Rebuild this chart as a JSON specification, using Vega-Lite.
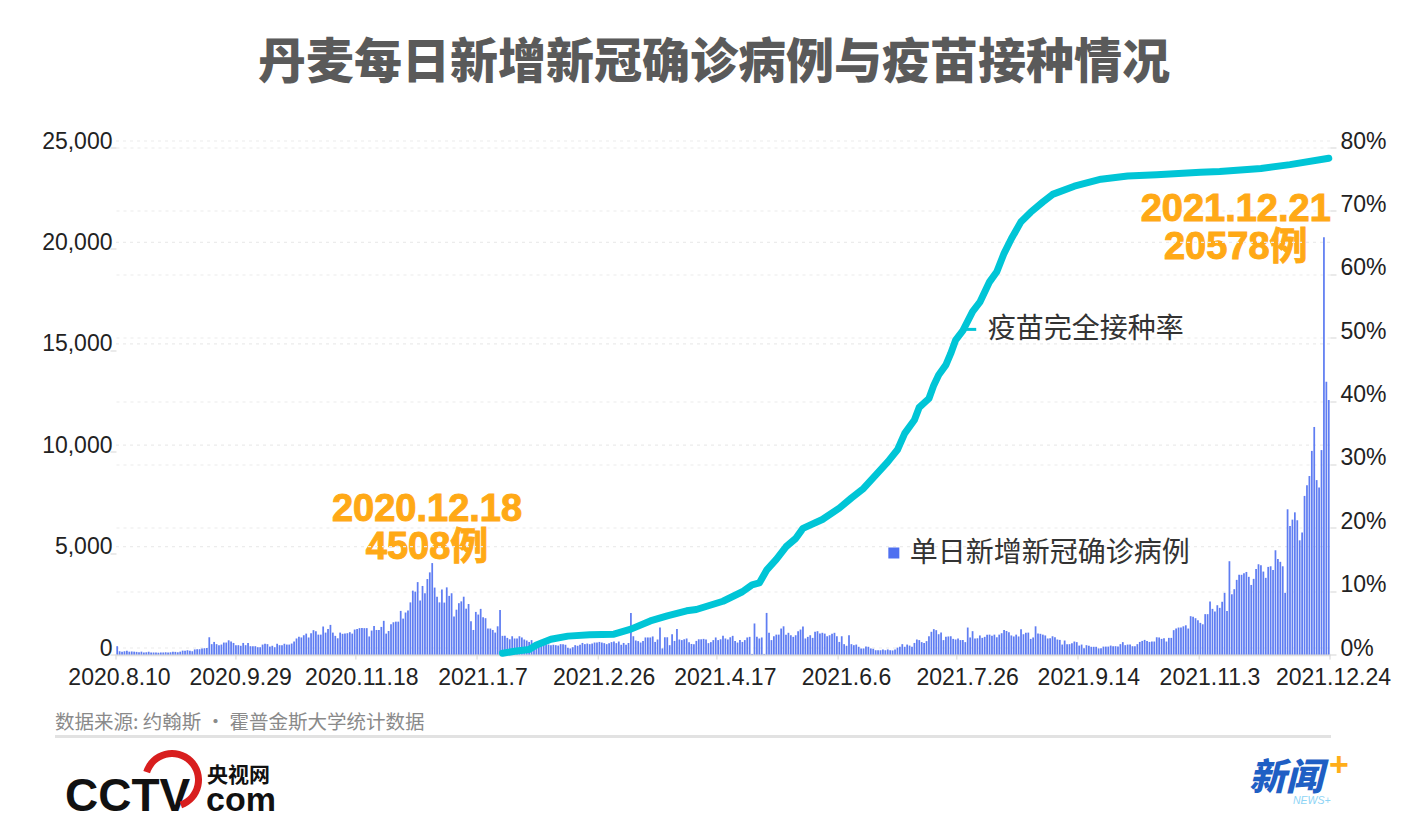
{
  "$schema": "https://vega.github.io/schema/vega-lite/v6.json",
  "width": 1214,
  "height": 507,
  "autosize": "none",
  "padding": {"left": 116, "top": 147.5, "right": 98, "bottom": 181.5},
  "background": "white",
  "title": {
    "text": "丹麦每日新增新冠确诊病例与疫苗接种情况",
    "font": "Noto Sans CJK SC",
    "fontSize": 48,
    "fontWeight": 900,
    "color": "#5a5a5a",
    "anchor": "middle",
    "frame": "group",
    "dx": -9,
    "offset": 42
  },
  "datasets": {
    "daily": [
      {"date":"2020-08-10","cases":410},{"date":"2020-08-11","cases":160},{"date":"2020-08-12","cases":130},{"date":"2020-08-13","cases":160},{"date":"2020-08-14","cases":180},{"date":"2020-08-15","cases":140},{"date":"2020-08-16","cases":150},{"date":"2020-08-17","cases":140},{"date":"2020-08-18","cases":130},{"date":"2020-08-19","cases":110},{"date":"2020-08-20","cases":140},{"date":"2020-08-21","cases":100},{"date":"2020-08-22","cases":110},{"date":"2020-08-23","cases":130},{"date":"2020-08-24","cases":100},{"date":"2020-08-25","cases":100},{"date":"2020-08-26","cases":100},{"date":"2020-08-27","cases":90},{"date":"2020-08-28","cases":100},{"date":"2020-08-29","cases":100},{"date":"2020-08-30","cases":110},{"date":"2020-08-31","cases":100},
      {"date":"2020-09-01","cases":110},{"date":"2020-09-02","cases":130},{"date":"2020-09-03","cases":130},{"date":"2020-09-04","cases":110},{"date":"2020-09-05","cases":140},{"date":"2020-09-06","cases":190},{"date":"2020-09-07","cases":190},{"date":"2020-09-08","cases":210},{"date":"2020-09-09","cases":190},{"date":"2020-09-10","cases":160},{"date":"2020-09-11","cases":250},{"date":"2020-09-12","cases":260},{"date":"2020-09-13","cases":260},{"date":"2020-09-14","cases":290},{"date":"2020-09-15","cases":310},{"date":"2020-09-16","cases":320},{"date":"2020-09-17","cases":850},{"date":"2020-09-18","cases":510},{"date":"2020-09-19","cases":620},{"date":"2020-09-20","cases":510},{"date":"2020-09-21","cases":460},{"date":"2020-09-22","cases":490},{"date":"2020-09-23","cases":590},{"date":"2020-09-24","cases":590},{"date":"2020-09-25","cases":700},{"date":"2020-09-26","cases":640},{"date":"2020-09-27","cases":570},{"date":"2020-09-28","cases":460},{"date":"2020-09-29","cases":460},{"date":"2020-09-30","cases":430},
      {"date":"2020-10-01","cases":570},{"date":"2020-10-02","cases":460},{"date":"2020-10-03","cases":570},{"date":"2020-10-04","cases":410},{"date":"2020-10-05","cases":410},{"date":"2020-10-06","cases":410},{"date":"2020-10-07","cases":360},{"date":"2020-10-08","cases":360},{"date":"2020-10-09","cases":490},{"date":"2020-10-10","cases":530},{"date":"2020-10-11","cases":510},{"date":"2020-10-12","cases":390},{"date":"2020-10-13","cases":430},{"date":"2020-10-14","cases":360},{"date":"2020-10-15","cases":530},{"date":"2020-10-16","cases":460},{"date":"2020-10-17","cases":460},{"date":"2020-10-18","cases":530},{"date":"2020-10-19","cases":490},{"date":"2020-10-20","cases":490},{"date":"2020-10-21","cases":540},{"date":"2020-10-22","cases":640},{"date":"2020-10-23","cases":790},{"date":"2020-10-24","cases":870},{"date":"2020-10-25","cases":840},{"date":"2020-10-26","cases":950},{"date":"2020-10-27","cases":1030},{"date":"2020-10-28","cases":840},{"date":"2020-10-29","cases":1050},{"date":"2020-10-30","cases":1200},{"date":"2020-10-31","cases":1150},
      {"date":"2020-11-01","cases":980},{"date":"2020-11-02","cases":980},{"date":"2020-11-03","cases":1380},{"date":"2020-11-04","cases":1080},{"date":"2020-11-05","cases":1260},{"date":"2020-11-06","cases":1460},{"date":"2020-11-07","cases":1080},{"date":"2020-11-08","cases":920},{"date":"2020-11-09","cases":800},{"date":"2020-11-10","cases":1080},{"date":"2020-11-11","cases":1020},{"date":"2020-11-12","cases":1030},{"date":"2020-11-13","cases":1050},{"date":"2020-11-14","cases":1100},{"date":"2020-11-15","cases":1030},{"date":"2020-11-16","cases":1230},{"date":"2020-11-17","cases":1260},{"date":"2020-11-18","cases":1300},{"date":"2020-11-19","cases":1310},{"date":"2020-11-20","cases":1300},{"date":"2020-11-21","cases":1300},{"date":"2020-11-22","cases":890},{"date":"2020-11-23","cases":1180},{"date":"2020-11-24","cases":1410},{"date":"2020-11-25","cases":1210},{"date":"2020-11-26","cases":1210},{"date":"2020-11-27","cases":1360},{"date":"2020-11-28","cases":1660},{"date":"2020-11-29","cases":1030},{"date":"2020-11-30","cases":1160},
      {"date":"2020-12-01","cases":1490},{"date":"2020-12-02","cases":1590},{"date":"2020-12-03","cases":1620},{"date":"2020-12-04","cases":1620},{"date":"2020-12-05","cases":2150},{"date":"2020-12-06","cases":1770},{"date":"2020-12-07","cases":2070},{"date":"2020-12-08","cases":2170},{"date":"2020-12-09","cases":2570},{"date":"2020-12-10","cases":3150},{"date":"2020-12-11","cases":3100},{"date":"2020-12-12","cases":3570},{"date":"2020-12-13","cases":2660},{"date":"2020-12-14","cases":3380},{"date":"2020-12-15","cases":3020},{"date":"2020-12-16","cases":3720},{"date":"2020-12-17","cases":4050},{"date":"2020-12-18","cases":4508},{"date":"2020-12-19","cases":3300},{"date":"2020-12-20","cases":2850},{"date":"2020-12-21","cases":2570},{"date":"2020-12-22","cases":3210},{"date":"2020-12-23","cases":2560},{"date":"2020-12-24","cases":3310},{"date":"2020-12-25","cases":2890},{"date":"2020-12-26","cases":3020},{"date":"2020-12-27","cases":1870},{"date":"2020-12-28","cases":2210},{"date":"2020-12-29","cases":2530},{"date":"2020-12-30","cases":2620},{"date":"2020-12-31","cases":2850},
      {"date":"2021-01-01","cases":2260},{"date":"2021-01-02","cases":2490},{"date":"2021-01-03","cases":1640},{"date":"2021-01-04","cases":1210},{"date":"2021-01-05","cases":2100},{"date":"2021-01-06","cases":1970},{"date":"2021-01-07","cases":2250},{"date":"2021-01-08","cases":1840},{"date":"2021-01-09","cases":1790},{"date":"2021-01-10","cases":1280},{"date":"2021-01-11","cases":1280},{"date":"2021-01-12","cases":1210},{"date":"2021-01-13","cases":1080},{"date":"2021-01-14","cases":1390},{"date":"2021-01-15","cases":2200},{"date":"2021-01-16","cases":920},{"date":"2021-01-17","cases":920},{"date":"2021-01-18","cases":820},{"date":"2021-01-19","cases":750},{"date":"2021-01-20","cases":900},{"date":"2021-01-21","cases":790},{"date":"2021-01-22","cases":790},{"date":"2021-01-23","cases":900},{"date":"2021-01-24","cases":840},{"date":"2021-01-25","cases":740},{"date":"2021-01-26","cases":690},{"date":"2021-01-27","cases":620},{"date":"2021-01-28","cases":710},{"date":"2021-01-29","cases":510},{"date":"2021-01-30","cases":510},{"date":"2021-01-31","cases":510},
      {"date":"2021-02-01","cases":480},{"date":"2021-02-02","cases":510},{"date":"2021-02-03","cases":510},{"date":"2021-02-04","cases":490},{"date":"2021-02-05","cases":460},{"date":"2021-02-06","cases":480},{"date":"2021-02-07","cases":460},{"date":"2021-02-08","cases":440},{"date":"2021-02-09","cases":510},{"date":"2021-02-10","cases":510},{"date":"2021-02-11","cases":480},{"date":"2021-02-12","cases":330},{"date":"2021-02-13","cases":300},{"date":"2021-02-14","cases":360},{"date":"2021-02-15","cases":460},{"date":"2021-02-16","cases":430},{"date":"2021-02-17","cases":480},{"date":"2021-02-18","cases":570},{"date":"2021-02-19","cases":510},{"date":"2021-02-20","cases":540},{"date":"2021-02-21","cases":510},{"date":"2021-02-22","cases":540},{"date":"2021-02-23","cases":590},{"date":"2021-02-24","cases":590},{"date":"2021-02-25","cases":620},{"date":"2021-02-26","cases":590},{"date":"2021-02-27","cases":560},{"date":"2021-02-28","cases":510},
      {"date":"2021-03-01","cases":560},{"date":"2021-03-02","cases":610},{"date":"2021-03-03","cases":640},{"date":"2021-03-04","cases":560},{"date":"2021-03-05","cases":640},{"date":"2021-03-06","cases":480},{"date":"2021-03-07","cases":570},{"date":"2021-03-08","cases":480},{"date":"2021-03-09","cases":570},{"date":"2021-03-10","cases":2050},{"date":"2021-03-11","cases":900},{"date":"2021-03-12","cases":690},{"date":"2021-03-13","cases":660},{"date":"2021-03-14","cases":590},{"date":"2021-03-15","cases":670},{"date":"2021-03-16","cases":840},{"date":"2021-03-17","cases":840},{"date":"2021-03-18","cases":840},{"date":"2021-03-19","cases":890},{"date":"2021-03-20","cases":620},{"date":"2021-03-21","cases":740},{"date":"2021-03-22","cases":1330},{"date":"2021-03-23","cases":300},{"date":"2021-03-24","cases":850},{"date":"2021-03-25","cases":850},{"date":"2021-03-26","cases":460},{"date":"2021-03-27","cases":1000},{"date":"2021-03-28","cases":670},{"date":"2021-03-29","cases":1260},{"date":"2021-03-30","cases":740},{"date":"2021-03-31","cases":710},
      {"date":"2021-04-01","cases":750},{"date":"2021-04-02","cases":790},{"date":"2021-04-03","cases":610},{"date":"2021-04-04","cases":520},{"date":"2021-04-05","cases":510},{"date":"2021-04-06","cases":670},{"date":"2021-04-07","cases":750},{"date":"2021-04-08","cases":750},{"date":"2021-04-09","cases":770},{"date":"2021-04-10","cases":740},{"date":"2021-04-11","cases":560},{"date":"2021-04-12","cases":610},{"date":"2021-04-13","cases":710},{"date":"2021-04-14","cases":840},{"date":"2021-04-15","cases":710},{"date":"2021-04-16","cases":750},{"date":"2021-04-17","cases":930},{"date":"2021-04-18","cases":790},{"date":"2021-04-19","cases":740},{"date":"2021-04-20","cases":850},{"date":"2021-04-21","cases":920},{"date":"2021-04-22","cases":670},{"date":"2021-04-23","cases":590},{"date":"2021-04-24","cases":710},{"date":"2021-04-25","cases":620},{"date":"2021-04-26","cases":710},{"date":"2021-04-27","cases":840},{"date":"2021-04-28","cases":870},{"date":"2021-04-29","cases":20},{"date":"2021-04-30","cases":1530},
      {"date":"2021-05-01","cases":870},{"date":"2021-05-02","cases":790},{"date":"2021-05-03","cases":840},{"date":"2021-05-04","cases":20},{"date":"2021-05-05","cases":2050},{"date":"2021-05-06","cases":1070},{"date":"2021-05-07","cases":710},{"date":"2021-05-08","cases":900},{"date":"2021-05-09","cases":980},{"date":"2021-05-10","cases":980},{"date":"2021-05-11","cases":1280},{"date":"2021-05-12","cases":1390},{"date":"2021-05-13","cases":980},{"date":"2021-05-14","cases":1070},{"date":"2021-05-15","cases":950},{"date":"2021-05-16","cases":870},{"date":"2021-05-17","cases":950},{"date":"2021-05-18","cases":1150},{"date":"2021-05-19","cases":1230},{"date":"2021-05-20","cases":1380},{"date":"2021-05-21","cases":790},{"date":"2021-05-22","cases":870},{"date":"2021-05-23","cases":950},{"date":"2021-05-24","cases":820},{"date":"2021-05-25","cases":1120},{"date":"2021-05-26","cases":1150},{"date":"2021-05-27","cases":1030},{"date":"2021-05-28","cases":1070},{"date":"2021-05-29","cases":1030},{"date":"2021-05-30","cases":900},{"date":"2021-05-31","cases":950},
      {"date":"2021-06-01","cases":1020},{"date":"2021-06-02","cases":1070},{"date":"2021-06-03","cases":900},{"date":"2021-06-04","cases":620},{"date":"2021-06-05","cases":900},{"date":"2021-06-06","cases":510},{"date":"2021-06-07","cases":430},{"date":"2021-06-08","cases":950},{"date":"2021-06-09","cases":510},{"date":"2021-06-10","cases":460},{"date":"2021-06-11","cases":490},{"date":"2021-06-12","cases":380},{"date":"2021-06-13","cases":300},{"date":"2021-06-14","cases":300},{"date":"2021-06-15","cases":390},{"date":"2021-06-16","cases":380},{"date":"2021-06-17","cases":300},{"date":"2021-06-18","cases":280},{"date":"2021-06-19","cases":210},{"date":"2021-06-20","cases":210},{"date":"2021-06-21","cases":210},{"date":"2021-06-22","cases":250},{"date":"2021-06-23","cases":210},{"date":"2021-06-24","cases":250},{"date":"2021-06-25","cases":210},{"date":"2021-06-26","cases":200},{"date":"2021-06-27","cases":250},{"date":"2021-06-28","cases":340},{"date":"2021-06-29","cases":380},{"date":"2021-06-30","cases":510},
      {"date":"2021-07-01","cases":380},{"date":"2021-07-02","cases":490},{"date":"2021-07-03","cases":440},{"date":"2021-07-04","cases":380},{"date":"2021-07-05","cases":570},{"date":"2021-07-06","cases":740},{"date":"2021-07-07","cases":710},{"date":"2021-07-08","cases":610},{"date":"2021-07-09","cases":570},{"date":"2021-07-10","cases":660},{"date":"2021-07-11","cases":900},{"date":"2021-07-12","cases":1120},{"date":"2021-07-13","cases":1250},{"date":"2021-07-14","cases":1200},{"date":"2021-07-15","cases":1000},{"date":"2021-07-16","cases":1080},{"date":"2021-07-17","cases":710},{"date":"2021-07-18","cases":870},{"date":"2021-07-19","cases":890},{"date":"2021-07-20","cases":900},{"date":"2021-07-21","cases":770},{"date":"2021-07-22","cases":740},{"date":"2021-07-23","cases":790},{"date":"2021-07-24","cases":710},{"date":"2021-07-25","cases":710},{"date":"2021-07-26","cases":610},{"date":"2021-07-27","cases":1330},{"date":"2021-07-28","cases":840},{"date":"2021-07-29","cases":1150},{"date":"2021-07-30","cases":790},{"date":"2021-07-31","cases":800},
      {"date":"2021-08-01","cases":940},{"date":"2021-08-02","cases":820},{"date":"2021-08-03","cases":870},{"date":"2021-08-04","cases":980},{"date":"2021-08-05","cases":980},{"date":"2021-08-06","cases":930},{"date":"2021-08-07","cases":980},{"date":"2021-08-08","cases":850},{"date":"2021-08-09","cases":980},{"date":"2021-08-10","cases":1050},{"date":"2021-08-11","cases":1210},{"date":"2021-08-12","cases":1160},{"date":"2021-08-13","cases":1100},{"date":"2021-08-14","cases":940},{"date":"2021-08-15","cases":890},{"date":"2021-08-16","cases":980},{"date":"2021-08-17","cases":890},{"date":"2021-08-18","cases":1250},{"date":"2021-08-19","cases":1000},{"date":"2021-08-20","cases":1070},{"date":"2021-08-21","cases":1080},{"date":"2021-08-22","cases":770},{"date":"2021-08-23","cases":840},{"date":"2021-08-24","cases":1390},{"date":"2021-08-25","cases":1030},{"date":"2021-08-26","cases":1020},{"date":"2021-08-27","cases":980},{"date":"2021-08-28","cases":940},{"date":"2021-08-29","cases":790},{"date":"2021-08-30","cases":800},{"date":"2021-08-31","cases":900},
      {"date":"2021-09-01","cases":850},{"date":"2021-09-02","cases":740},{"date":"2021-09-03","cases":720},{"date":"2021-09-04","cases":490},{"date":"2021-09-05","cases":690},{"date":"2021-09-06","cases":510},{"date":"2021-09-07","cases":510},{"date":"2021-09-08","cases":560},{"date":"2021-09-09","cases":640},{"date":"2021-09-10","cases":610},{"date":"2021-09-11","cases":440},{"date":"2021-09-12","cases":490},{"date":"2021-09-13","cases":310},{"date":"2021-09-14","cases":460},{"date":"2021-09-15","cases":430},{"date":"2021-09-16","cases":380},{"date":"2021-09-17","cases":380},{"date":"2021-09-18","cases":380},{"date":"2021-09-19","cases":300},{"date":"2021-09-20","cases":310},{"date":"2021-09-21","cases":390},{"date":"2021-09-22","cases":390},{"date":"2021-09-23","cases":390},{"date":"2021-09-24","cases":440},{"date":"2021-09-25","cases":410},{"date":"2021-09-26","cases":410},{"date":"2021-09-27","cases":390},{"date":"2021-09-28","cases":510},{"date":"2021-09-29","cases":610},{"date":"2021-09-30","cases":460},
      {"date":"2021-10-01","cases":490},{"date":"2021-10-02","cases":490},{"date":"2021-10-03","cases":410},{"date":"2021-10-04","cases":410},{"date":"2021-10-05","cases":510},{"date":"2021-10-06","cases":620},{"date":"2021-10-07","cases":670},{"date":"2021-10-08","cases":720},{"date":"2021-10-09","cases":670},{"date":"2021-10-10","cases":620},{"date":"2021-10-11","cases":640},{"date":"2021-10-12","cases":640},{"date":"2021-10-13","cases":850},{"date":"2021-10-14","cases":840},{"date":"2021-10-15","cases":770},{"date":"2021-10-16","cases":800},{"date":"2021-10-17","cases":640},{"date":"2021-10-18","cases":820},{"date":"2021-10-19","cases":820},{"date":"2021-10-20","cases":1200},{"date":"2021-10-21","cases":1280},{"date":"2021-10-22","cases":1330},{"date":"2021-10-23","cases":1330},{"date":"2021-10-24","cases":1390},{"date":"2021-10-25","cases":1440},{"date":"2021-10-26","cases":1280},{"date":"2021-10-27","cases":1890},{"date":"2021-10-28","cases":1860},{"date":"2021-10-29","cases":1790},{"date":"2021-10-30","cases":1690},{"date":"2021-10-31","cases":1560},
      {"date":"2021-11-01","cases":1490},{"date":"2021-11-02","cases":1990},{"date":"2021-11-03","cases":1990},{"date":"2021-11-04","cases":2610},{"date":"2021-11-05","cases":2250},{"date":"2021-11-06","cases":2120},{"date":"2021-11-07","cases":2430},{"date":"2021-11-08","cases":2300},{"date":"2021-11-09","cases":2600},{"date":"2021-11-10","cases":3040},{"date":"2021-11-11","cases":2150},{"date":"2021-11-12","cases":4600},{"date":"2021-11-13","cases":2970},{"date":"2021-11-14","cases":3220},{"date":"2021-11-15","cases":3680},{"date":"2021-11-16","cases":3930},{"date":"2021-11-17","cases":3930},{"date":"2021-11-18","cases":4010},{"date":"2021-11-19","cases":4070},{"date":"2021-11-20","cases":3830},{"date":"2021-11-21","cases":3430},{"date":"2021-11-22","cases":3730},{"date":"2021-11-23","cases":4220},{"date":"2021-11-24","cases":4450},{"date":"2021-11-25","cases":4400},{"date":"2021-11-26","cases":4090},{"date":"2021-11-27","cases":3780},{"date":"2021-11-28","cases":4320},{"date":"2021-11-29","cases":4350},{"date":"2021-11-30","cases":4170},
      {"date":"2021-12-01","cases":5140},{"date":"2021-12-02","cases":4710},{"date":"2021-12-03","cases":4570},{"date":"2021-12-04","cases":4350},{"date":"2021-12-05","cases":3040},{"date":"2021-12-06","cases":7160},{"date":"2021-12-07","cases":6340},{"date":"2021-12-08","cases":6650},{"date":"2021-12-09","cases":7010},{"date":"2021-12-10","cases":6620},{"date":"2021-12-11","cases":5630},{"date":"2021-12-12","cases":6010},{"date":"2021-12-13","cases":7820},{"date":"2021-12-14","cases":8340},{"date":"2021-12-15","cases":8800},{"date":"2021-12-16","cases":10040},{"date":"2021-12-17","cases":11220},{"date":"2021-12-18","cases":8600},{"date":"2021-12-19","cases":8230},{"date":"2021-12-20","cases":10080},{"date":"2021-12-21","cases":20578},{"date":"2021-12-22","cases":13450},{"date":"2021-12-23","cases":12550}
    ],
    "vaccine": [
      {"date":"2021-01-16","rate":0.2},{"date":"2021-01-21","rate":0.5},{"date":"2021-01-27","rate":0.8},{"date":"2021-01-30","rate":1.5},{"date":"2021-02-05","rate":2.4},{"date":"2021-02-12","rate":2.9},{"date":"2021-02-21","rate":3.1},{"date":"2021-03-03","rate":3.2},{"date":"2021-03-10","rate":4.0},{"date":"2021-03-18","rate":5.3},{"date":"2021-03-25","rate":6.1},{"date":"2021-04-02","rate":6.9},{"date":"2021-04-06","rate":7.1},{"date":"2021-04-17","rate":8.4},{"date":"2021-04-25","rate":9.9},{"date":"2021-04-29","rate":11.0},{"date":"2021-05-02","rate":11.3},{"date":"2021-05-05","rate":13.3},{"date":"2021-05-09","rate":15.0},{"date":"2021-05-13","rate":17.0},{"date":"2021-05-17","rate":18.3},{"date":"2021-05-20","rate":19.9},{"date":"2021-05-28","rate":21.3},{"date":"2021-06-04","rate":23.1},{"date":"2021-06-09","rate":24.7},{"date":"2021-06-14","rate":26.2},{"date":"2021-06-19","rate":28.3},{"date":"2021-06-24","rate":30.4},{"date":"2021-06-28","rate":32.3},{"date":"2021-07-01","rate":34.9},{"date":"2021-07-05","rate":37.0},{"date":"2021-07-07","rate":39.0},{"date":"2021-07-11","rate":40.4},{"date":"2021-07-13","rate":42.5},{"date":"2021-07-15","rate":44.1},{"date":"2021-07-18","rate":45.7},{"date":"2021-07-20","rate":47.5},{"date":"2021-07-22","rate":49.6},{"date":"2021-07-25","rate":51.1},{"date":"2021-07-29","rate":54.1},{"date":"2021-08-01","rate":55.6},{"date":"2021-08-05","rate":58.8},{"date":"2021-08-08","rate":60.4},{"date":"2021-08-11","rate":63.3},{"date":"2021-08-14","rate":65.6},{"date":"2021-08-18","rate":68.3},{"date":"2021-08-22","rate":69.8},{"date":"2021-08-27","rate":71.4},{"date":"2021-08-31","rate":72.6},{"date":"2021-09-09","rate":73.9},{"date":"2021-09-20","rate":75.0},{"date":"2021-10-01","rate":75.5},{"date":"2021-10-13","rate":75.7},{"date":"2021-10-31","rate":76.1},{"date":"2021-11-08","rate":76.2},{"date":"2021-11-25","rate":76.7},{"date":"2021-12-07","rate":77.3},{"date":"2021-12-23","rate":78.3}
    ],
    "leftGrid": [
      {"date":"2020-08-10","date2":"2021-12-24","cases":0},{"date":"2020-08-10","date2":"2021-12-24","cases":5000},{"date":"2020-08-10","date2":"2021-12-24","cases":10000},{"date":"2020-08-10","date2":"2021-12-24","cases":15000},{"date":"2020-08-10","date2":"2021-12-24","cases":20000},{"date":"2020-08-10","date2":"2021-12-24","cases":25000}
    ],
    "axisTicks": [
      {"date":"2020-08-10","cases":0,"low":-250},{"date":"2020-09-28T12:00:00Z","cases":0,"low":-250},{"date":"2020-11-17","cases":0,"low":-250},{"date":"2021-01-06","cases":0,"low":-250},{"date":"2021-02-25","cases":0,"low":-250},{"date":"2021-04-15","cases":0,"low":-250},{"date":"2021-06-04","cases":0,"low":-250},{"date":"2021-07-23","cases":0,"low":-250},{"date":"2021-09-11","cases":0,"low":-250},{"date":"2021-10-31","cases":0,"low":-250},{"date":"2021-12-24","cases":0,"low":-250}
    ],
    "originLeft": [{"date":"2020-08-10","cases":0}],
    "originRight": [{"date":"2021-12-24","cases":0}]
  },
  "data": {"name": "daily"},
  "encoding": {
    "x": {
      "field":"date","type":"temporal","title":null,
      "scale":{"type":"utc","padding":0,"domain":[{"year":2020,"month":8,"date":10,"utc":true},{"year":2021,"month":12,"date":24,"utc":true}]},
      "axis": {
        "values":[
          {"year":2020,"month":8,"date":10,"utc":true},{"year":2020,"month":9,"date":29,"utc":true},{"year":2020,"month":11,"date":18,"utc":true},{"year":2021,"month":1,"date":7,"utc":true},{"year":2021,"month":2,"date":26,"utc":true},{"year":2021,"month":4,"date":17,"utc":true},{"year":2021,"month":6,"date":6,"utc":true},{"year":2021,"month":7,"date":26,"utc":true},{"year":2021,"month":9,"date":14,"utc":true},{"year":2021,"month":11,"date":3,"utc":true},{"year":2021,"month":12,"date":24,"utc":true}
        ],
        "format":"%Y.%-m.%-d","grid":false,"ticks":false,"labelFont":"Liberation Sans","labelFontSize":23,"labelColor":"#222222","labelOffset":3,"labelPadding":12,"labelFlush":false,"labelOverlap":false,"labelAngle":0,
        "domainColor":"#e0e0e0","domainWidth":2.5
      }
    }
  },
  "layer": [
    {
      "data": {"values": [{"date":"2020-12-18","cases":4508,"label":"2020.12.18\n4508例"}]},
      "mark": {"type":"text","font":"Liberation Sans, Noto Sans CJK SC","fontWeight":"bold","fontSize":38,"color":"#FFA916","stroke":"#FFA916","strokeWidth":1,"align":"center","baseline":"bottom","lineBreak":"\n","lineHeight":38,"dx":-4,"dy":-34},
      "encoding": {
        "y": {"field":"cases","type":"quantitative","scale":{"domain":[0,25000]},"axis":null},
        "text": {"field":"label"}
      }
    },
    {
      "data": {"values": [{"date":"2021-12-21","cases":20578,"label":"2021.12.21\n20578例"}]},
      "mark": {"type":"text","font":"Liberation Sans, Noto Sans CJK SC","fontWeight":"bold","fontSize":38,"color":"#FFA916","stroke":"#FFA916","strokeWidth":1,"align":"center","baseline":"bottom","lineBreak":"\n","lineHeight":38,"dx":-87,"dy":-8},
      "encoding": {
        "y": {"field":"cases","type":"quantitative","scale":{"domain":[0,25000]},"axis":null},
        "text": {"field":"label"}
      }
    },
    {
      "data": {"name": "leftGrid"},
      "mark": {"type":"rule","color":"#ececec","strokeDash":[3,4],"strokeWidth":1.2,"yOffset":-6.5},
      "encoding": {
        "x2": {"field":"date2"},
        "y": {"field":"cases","type":"quantitative","scale":{"domain":[0,25000]},"axis":null}
      }
    },
    {
      "mark": {"type":"bar","color":"#5f7df2","width":1.75,"xOffset":1.2},
      "encoding": {
        "y": {
          "field":"cases","type":"quantitative","title":null,"scale":{"domain":[0,25000]},
          "axis": {"values":[0,5000,10000,15000,20000,25000],"format":",d","orient":"left","grid":false,"domain":false,"tickColor":"#d5d5d5","tickSize":6,"labelFont":"Liberation Sans","labelFontSize":23,"labelColor":"#222222","labelOffset":-6.5,"labelPadding":-2}
        }
      }
    },
    {
      "data": {"name": "axisTicks"},
      "mark": {"type":"rule","color":"#d5d5d5","strokeWidth":1},
      "encoding": {
        "y": {"field":"cases","type":"quantitative","scale":{"domain":[0,25000]},"axis":null},
        "y2": {"field":"low"}
      }
    },
    {
      "data": {"name": "vaccine"},
      "mark": {"type":"line","color":"#00C5D6","strokeWidth":7,"strokeCap":"round","strokeJoin":"round","xOffset":1.2},
      "encoding": {
        "y": {
          "field":"rate","type":"quantitative","title":null,"scale":{"domain":[0,80]},
          "axis": {"values":[0,10,20,30,40,50,60,70,80],"orient":"right","labelExpr":"datum.value + '%'","grid":true,"gridColor":"#ececec","gridDash":[3,4],"gridWidth":1.2,"domain":false,"tickColor":"#d5d5d5","tickSize":6,"labelFont":"Liberation Sans","labelFontSize":23,"labelColor":"#222222","labelPadding":4,"labelOffset":-6.5}
        }
      }
    },
    {
      "data": {"values": [{"date":"2021-07-25","date2":"2021-07-31","rate":51.3,"label":"疫苗完全接种率"}]},
      "layer": [
        {
          "mark": {"type":"rule","color":"#00C5D6","strokeWidth":3},
          "encoding": {
            "x2": {"field":"date2"},
            "y": {"field":"rate","type":"quantitative","scale":{"domain":[0,80]},"axis":null}
          }
        },
        {
          "mark": {"type":"text","font":"Noto Sans CJK SC","fontSize":28,"color":"#333333","align":"left","baseline":"middle","dx":26,"dy":1},
          "encoding": {
            "y": {"field":"rate","type":"quantitative","scale":{"domain":[0,80]},"axis":null},
            "text": {"field":"label"}
          }
        }
      ]
    },
    {
      "data": {"values": [{"date":"2021-06-27","cases":5005,"label":"单日新增新冠确诊病例"}]},
      "layer": [
        {
          "mark": {"type":"point","shape":"square","filled":true,"size":121,"color":"#4F70F0","opacity":1},
          "encoding": {
            "y": {"field":"cases","type":"quantitative","scale":{"domain":[0,25000]},"axis":null}
          }
        },
        {
          "mark": {"type":"text","font":"Noto Sans CJK SC","fontSize":28,"color":"#333333","align":"left","baseline":"middle","dx":16,"dy":1},
          "encoding": {
            "y": {"field":"cases","type":"quantitative","scale":{"domain":[0,25000]},"axis":null},
            "text": {"field":"label"}
          }
        }
      ]
    },
    {
      "data": {"values": [{"date":"2020-08-10","date2":"2021-12-24","cases":0}]},
      "mark": {"type":"rule","color":"#e2e2e2","strokeWidth":3,"xOffset":-61,"x2Offset":1,"yOffset":82},
      "encoding": {
        "x2": {"field":"date2"},
        "y": {"field":"cases","type":"quantitative","scale":{"domain":[0,25000]},"axis":null}
      }
    },
    {
      "data": {"name": "originLeft"},
      "encoding": {
        "y": {"field":"cases","type":"quantitative","scale":{"domain":[0,25000]},"axis":null}
      },
      "layer": [
        {"mark": {"type":"text","text":"数据来源: 约翰斯 · 霍普金斯大学统计数据","font":"Noto Sans CJK SC","fontSize":19.5,"color":"#8a8a8a","align":"left","baseline":"middle","dx":-61,"dy":68.5}},
        {"mark": {"type":"text","text":"CCTV","font":"Liberation Sans","fontWeight":"bold","fontSize":46,"color":"#111111","align":"left","baseline":"alphabetic","dx":-51,"dy":156.5}},
        {"mark": {"type":"text","text":"com","font":"Liberation Sans","fontWeight":"bold","fontSize":34,"color":"#111111","align":"left","baseline":"alphabetic","dx":90,"dy":156.5}},
        {"mark": {"type":"text","text":"央视网","font":"Noto Sans CJK SC","fontWeight":"bold","fontSize":21,"color":"#111111","align":"left","baseline":"alphabetic","dx":91,"dy":127}},
        {"mark": {"type":"arc","theta":-1.27,"theta2":2.8,"innerRadius":23,"outerRadius":30,"color":"#D81E1E","xOffset":56,"yOffset":125.5}}
      ]
    },
    {
      "data": {"name": "originRight"},
      "encoding": {
        "y": {"field":"cases","type":"quantitative","scale":{"domain":[0,25000]},"axis":null}
      },
      "layer": [
        {"mark": {"type":"text","text":"新闻","font":"Noto Sans CJK SC","fontWeight":900,"fontStyle":"italic","fontSize":37,"color":"#1F5FC4","align":"left","baseline":"alphabetic","dx":-81,"dy":135}},
        {"mark": {"type":"text","text":"+","font":"Liberation Sans","fontWeight":"bold","fontSize":34,"color":"#FFAE19","align":"left","baseline":"alphabetic","dx":-1,"dy":121.5}},
        {"mark": {"type":"text","text":"NEWS+","font":"Liberation Sans","fontStyle":"italic","fontSize":10.5,"color":"#8ED4F5","align":"left","baseline":"alphabetic","dx":-37,"dy":149}}
      ]
    }
  ],
  "resolve": {"scale": {"y": "independent"}, "axis": {"y": "independent"}},
  "config": {"view": {"stroke": null}}
}
